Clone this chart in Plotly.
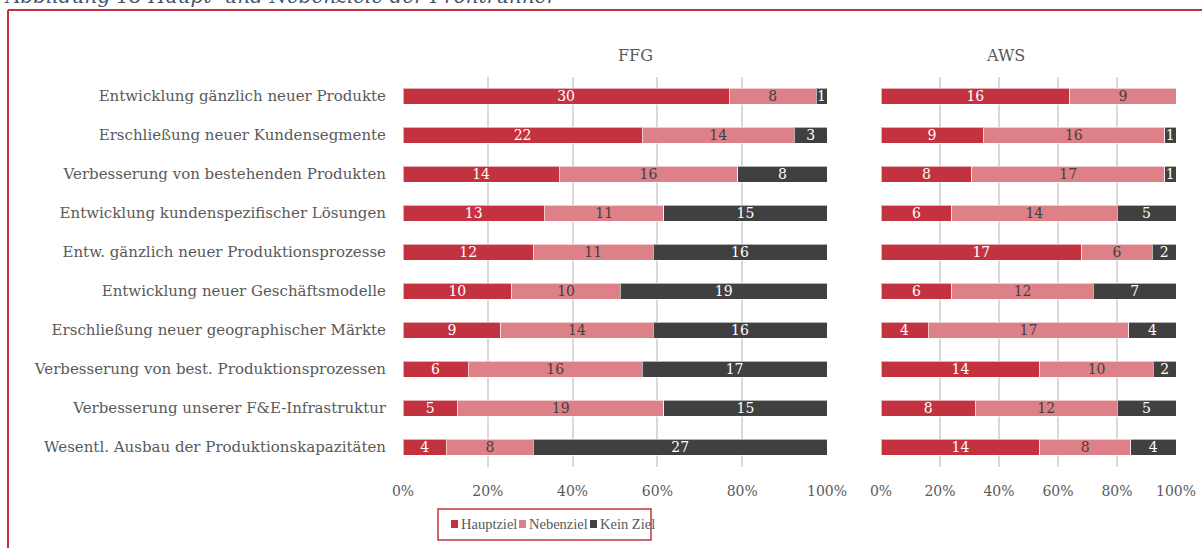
import plotly.graph_objects as go

# categories, top to bottom
categories = [
    "Entwicklung gänzlich neuer Produkte",
    "Erschließung neuer Kundensegmente",
    "Verbesserung von bestehenden Produkten",
    "Entwicklung kundenspezifischer Lösungen",
    "Entw. gänzlich neuer Produktionsprozesse",
    "Entwicklung neuer Geschäftsmodelle",
    "Erschließung neuer geographischer Märkte",
    "Verbesserung von best. Produktionsprozessen",
    "Verbesserung unserer F&E-Infrastruktur",
    "Wesentl. Ausbau der Produktionskapazitäten",
]

ffg_haupt = [30, 22, 14, 13, 12, 10, 9, 6, 5, 4]
ffg_neben = [8, 14, 16, 11, 11, 10, 14, 16, 19, 8]
ffg_kein = [1, 3, 8, 15, 16, 19, 16, 17, 15, 27]

aws_haupt = [16, 9, 8, 6, 17, 6, 4, 14, 8, 14]
aws_neben = [9, 16, 17, 14, 6, 12, 17, 10, 12, 8]
aws_kein = [0, 1, 1, 5, 2, 7, 4, 2, 5, 4]

series_names = ["Hauptziel", "Nebenziel", "Kein Ziel"]
colors = ["#C3333F", "#DE8087", "#404040"]
label_colors = ["white", "#404040", "white"]
tick_labels = ["0%", "20%", "40%", "60%", "80%", "100%"]

FONT = "DejaVu Serif"
LEG_FONT = "Liberation Serif"
GRAY = "#595959"
W, H = 1202, 548

fig = go.Figure()

groups = [
    ("x", "y", [ffg_haupt, ffg_neben, ffg_kein]),
    ("x2", "y2", [aws_haupt, aws_neben, aws_kein]),
]
for xa, ya, data in groups:
    for name, vals, col, lcol in zip(series_names, data, colors, label_colors):
        fig.add_trace(go.Bar(
            y=categories, x=vals, name=name, orientation="h",
            xaxis=xa, yaxis=ya,
            marker=dict(color=col, line=dict(color="rgba(255,255,255,0.6)", width=1)),
            text=[str(v) if v else "" for v in vals],
            textposition="inside", insidetextanchor="middle", textangle=0,
            textfont=dict(family=FONT, size=14, color=lcol),
            showlegend=False, hoverinfo="skip",
        ))

xaxis_common = dict(
    range=[0, 100], tickvals=[0, 20, 40, 60, 80, 100], ticktext=tick_labels,
    showgrid=True, gridcolor="#D9D9D9", gridwidth=1.5, zeroline=False,
    showline=False, ticks="", ticklabelstandoff=14, automargin=False,
    tickfont=dict(family=FONT, size=14, color=GRAY),
)

fig.update_layout(
    width=W, height=H,
    margin=dict(l=0, r=0, t=0, b=0, pad=0),
    paper_bgcolor="white", plot_bgcolor="white",
    barmode="stack", barnorm="percent", bargap=0.59,
    uniformtext=dict(minsize=14, mode="show"),
    xaxis=dict(domain=[403 / W, 827 / W], anchor="y", **xaxis_common),
    xaxis2=dict(domain=[881 / W, 1176 / W], anchor="y2", **xaxis_common),
    yaxis=dict(domain=[1 - 466.5 / H, 1 - 76.5 / H], anchor="x", automargin=False,
               categoryorder="array", categoryarray=categories[::-1],
               showgrid=False, ticks="", ticklabelstandoff=16,
               tickfont=dict(family=FONT, size=15, color=GRAY)),
    yaxis2=dict(domain=[1 - 466.5 / H, 1 - 76.5 / H], anchor="x2", automargin=False,
                matches="y", showticklabels=False, showgrid=False),
    font=dict(family=FONT, color=GRAY),
)


def px_note(text, x, y, size, color=GRAY, xanchor="center", family=FONT, **kw):
    fig.add_annotation(text=text, x=x / W, y=1 - y / H, xref="paper", yref="paper",
                       xanchor=xanchor, yanchor="middle", showarrow=False,
                       font=dict(family=family, size=size, color=color, **kw))


# panel titles
px_note("FFG", 635, 55, 16)
px_note("AWS", 1005, 55, 16)

# figure caption (cut off at the top)
px_note("Abbildung 18 Haupt- und Nebenziele der Frontrunner", 2, -4, 20,
        color="#44546A", xanchor="left", style="italic")

# red frame
red = "#C3333F"
fig.add_shape(type="line", xref="paper", yref="paper",
              x0=8 / W, x1=1.02, y0=1 - 10 / H, y1=1 - 10 / H,
              line=dict(color=red, width=2))
fig.add_shape(type="line", xref="paper", yref="paper",
              x0=8 / W, x1=8 / W, y0=1 - 10 / H, y1=-0.05,
              line=dict(color=red, width=2))

# legend
fig.add_shape(type="rect", xref="paper", yref="paper",
              x0=438 / W, x1=651 / W, y0=1 - 540 / H, y1=1 - 509 / H,
              line=dict(color=red, width=1.5))
for name, col, xs in zip(series_names, colors, [451, 519, 590]):
    fig.add_shape(type="rect", xref="paper", yref="paper",
                  x0=xs / W, x1=(xs + 7) / W, y0=1 - 528 / H, y1=1 - 520 / H,
                  fillcolor=col, line=dict(width=0))
    px_note(name, xs + 8, 524, 14.5, xanchor="left", family=LEG_FONT)

fig.write_html("out.html", config={"displayModeBar": False},
               post_script="document.body.style.margin='0';document.body.style.overflow='hidden';")
